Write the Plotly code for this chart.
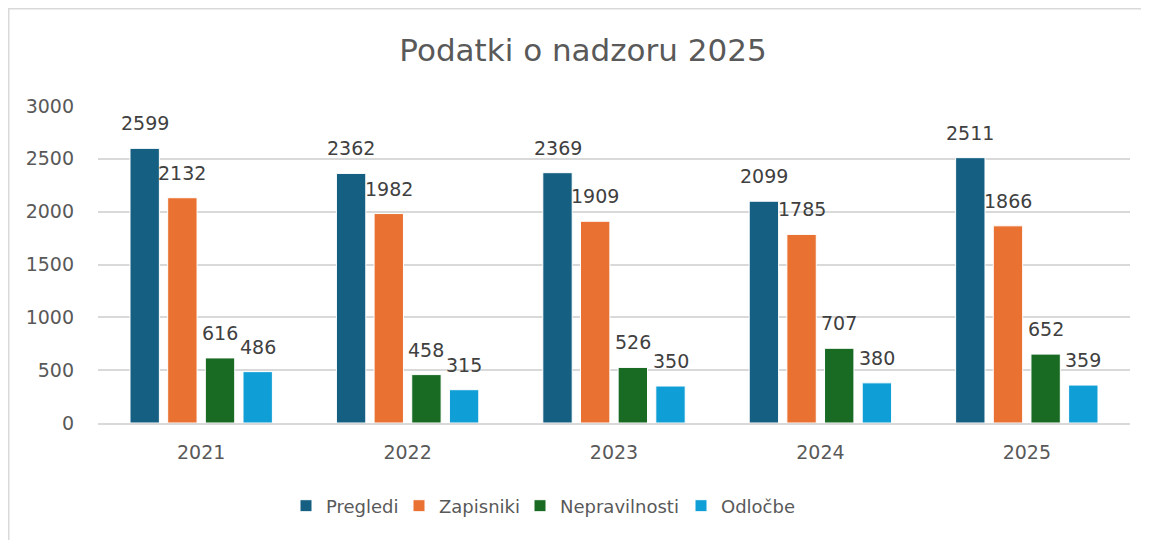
import plotly.graph_objects as go

years = ["2021", "2022", "2023", "2024", "2025"]
series_names = ["Pregledi", "Zapisniki", "Nepravilnosti", "Odločbe"]
pregledi = [2599, 2362, 2369, 2099, 2511]
zapisniki = [2132, 1982, 1909, 1785, 1866]
nepravilnosti = [616, 458, 526, 707, 652]
odlocbe = [486, 315, 350, 380, 359]
colors = ["#156082", "#E97132", "#196B24", "#0F9ED5"]

values = [pregledi, zapisniki, nepravilnosti, odlocbe]

FONT = "DejaVu Sans"
GREY = "#595959"
BARGAP = 0.27
GROUPGAP = 0.22
W, H = 1141, 532
ML, MR, MT, MB = 90, 19, 98, 117
PW, PH = W - ML - MR, H - MT - MB
# left pixel of each legend entry (figure coordinates)
LEGEND_LEFT = [278, 391, 512, 673]

fig = go.Figure()
legend_layout = {}
for i, (name, vals, col) in enumerate(zip(series_names, values, colors)):
    lname = "legend" if i == 0 else f"legend{i + 1}"
    fig.add_trace(go.Bar(
        x=years, y=vals, name=name, legend=lname, showlegend=True,
        marker=dict(color=col, line=dict(color="white", width=1)),
    ))
    legend_layout[lname] = dict(
        orientation="h", x=(LEGEND_LEFT[i] - ML) / PW, xanchor="left",
        y=-83 / PH, yanchor="middle", bgcolor="rgba(0,0,0,0)", borderwidth=0,
        font=dict(family=FONT, size=18, color=GREY), itemwidth=30,
    )

n = len(series_names)
slot = (1 - BARGAP) / n
annotations = []
for si, vals in enumerate(values):
    for ci, v in enumerate(vals):
        annotations.append(dict(
            x=ci + (si - (n - 1) / 2) * slot, y=v, xref="x", yref="y",
            text=str(v), showarrow=False, yanchor="bottom", yshift=12,
            font=dict(family=FONT, size=19, color="#404040"),
        ))

fig.update_layout(
    width=W, height=H, showlegend=True,
    paper_bgcolor="white", plot_bgcolor="white",
    margin=dict(l=ML, r=MR, t=MT, b=MB),
    barmode="group", bargap=BARGAP, bargroupgap=GROUPGAP,
    title=dict(text="Podatki o nadzoru 2025", x=575 / W, xanchor="center",
               y=1 - 42 / H, yanchor="middle",
               font=dict(family=FONT, size=31, color=GREY)),
    font=dict(family=FONT, color=GREY),
    annotations=annotations,
    shapes=[
        dict(type="line", xref="paper", yref="paper", x0=-ML / PW, x1=-ML / PW,
             y0=-MB / PH, y1=1 + MT / PH, line=dict(color="#D9D9D9", width=3)),
        dict(type="line", xref="paper", yref="paper", x0=-ML / PW, x1=1 + MR / PW,
             y0=1 + MT / PH, y1=1 + MT / PH, line=dict(color="#D9D9D9", width=3)),
    ],
    **legend_layout,
)
fig.update_xaxes(type="category", showgrid=False, showline=True, linecolor="#D9D9D9", linewidth=2,
                 ticks="", tickfont=dict(family=FONT, size=19, color=GREY), ticklabelstandoff=11)
fig.update_yaxes(range=[0, 3000], dtick=500, showgrid=True, gridcolor="#D9D9D9", gridwidth=2,
                 zeroline=False, showline=False, ticks="",
                 tickfont=dict(family=FONT, size=19, color=GREY), ticklabelstandoff=23)

fig.write_html("out.html")
